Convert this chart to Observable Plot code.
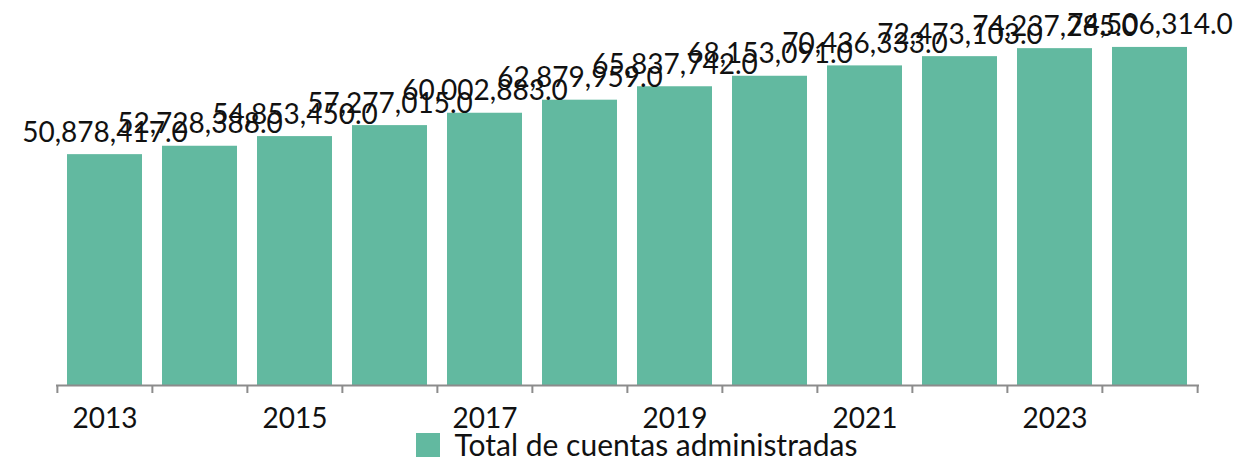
<!DOCTYPE html>
<html>
<head>
<meta charset="utf-8">
<script src="https://cdn.jsdelivr.net/npm/d3@7"></script>
<script src="https://cdn.jsdelivr.net/npm/@observablehq/plot@0.6"></script>
<style>
  html, body { margin: 0; padding: 0; background: #fff; }
  body { width: 1243px; height: 459px; overflow: hidden; font-family: Lato, sans-serif; }
  #chart svg { display: block; }
  #legend { height: 29px; display: flex; justify-content: center; align-items: center; gap: 15px; font-size: 30px; line-height: 29px; color: #111; padding-left: 30px; }
  #legend .sw { width: 24px; height: 24px; background: #62b9a0; }
</style>
</head>
<body>
<div id="chart"></div>
<div id="legend"><span class="sw"></span><span>Total de cuentas administradas</span></div>
<script>
const years = [2013, 2014, 2015, 2016, 2017, 2018, 2019, 2020, 2021, 2022, 2023, 2024];
const values = [50878417, 52728388, 54853450, 57277015, 60002883, 62879959, 65837742, 68153091, 70436333, 72473103, 74237285, 74506314];
const tickYears = [2013, 2015, 2017, 2019, 2021, 2023];
const seriesName = "Total de cuentas administradas";

const data = years.map((y, i) => ({year: y, value: values[i]}));
const W = 1243, H = 430, ML = 56, MR = 44;
const step = (W - ML - MR) / years.length;
const color = "#62b9a0";
const fmt = d3.format(",.1f");

const chart = Plot.plot({
  width: W,
  height: H,
  marginLeft: ML,
  marginRight: MR,
  marginTop: 22,
  marginBottom: 45,
  style: {fontFamily: "Lato, sans-serif", background: "transparent", overflow: "visible"},
  x: {type: "band", domain: years, paddingInner: 0.21, paddingOuter: 0.105, axis: null},
  y: {domain: [0, 80e6], axis: null},
  marks: [
    Plot.barY(data, {x: "year", y: "value", fill: color}),
    Plot.ruleY([0], {stroke: "#8c8c8c", strokeWidth: 2}),
    Plot.ruleX(years, {x: d => d, y1: 0, y2: 0, insetBottom: -8, dx: -step / 2, stroke: "#8c8c8c", strokeWidth: 2}),
    Plot.ruleX([years[years.length - 1]], {x: d => d, y1: 0, y2: 0, insetBottom: -8, dx: step / 2, stroke: "#8c8c8c", strokeWidth: 2}),
    Plot.axisX({ticks: tickYears, tickSize: 0, tickPadding: 23, tickFormat: d => `${d}`, fontSize: 28, fill: "#111", label: null}),
    Plot.text(data, {x: "year", y: "value", text: d => fmt(d.value), fontSize: 28, fill: "#111", lineAnchor: "middle", dy: -22})
  ]
});
document.getElementById("chart").appendChild(chart);
</script>
</body>
</html>
